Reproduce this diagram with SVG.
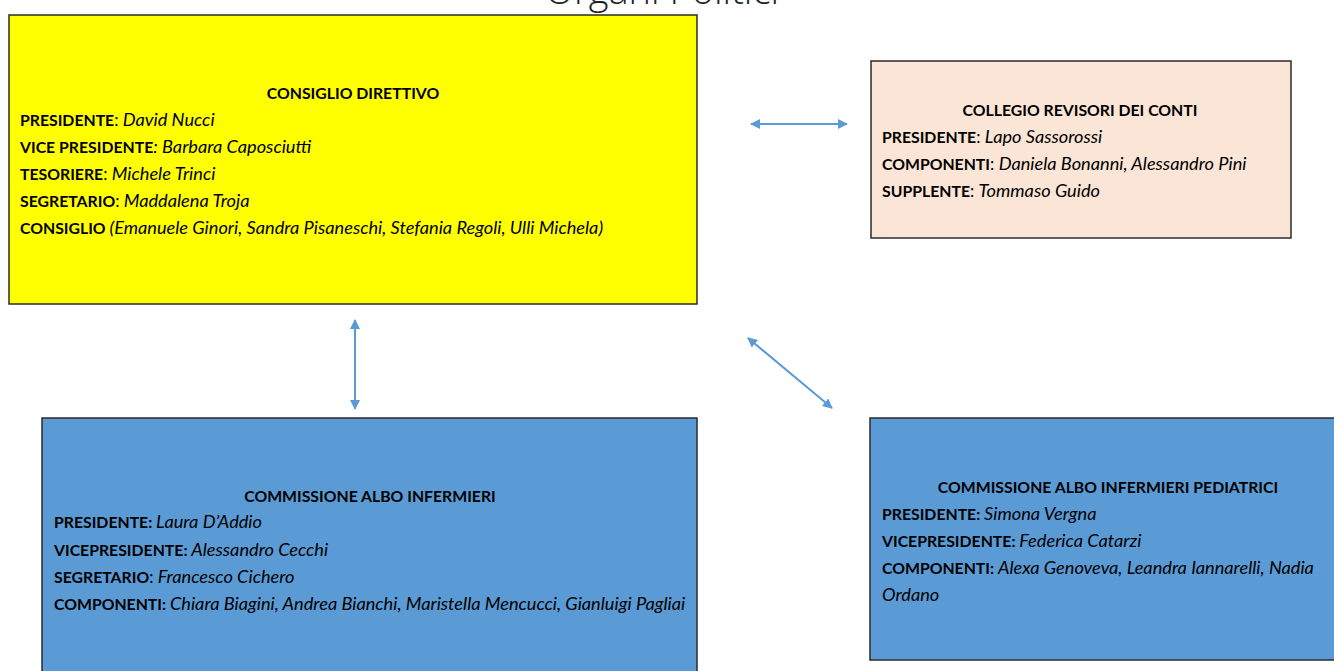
<svg xmlns="http://www.w3.org/2000/svg" width="1334" height="671" viewBox="0 0 1334 671">
<defs>
<style>
text{font-family:Lato,"Open Sans","Liberation Sans",sans-serif;font-size:15.8px;fill:#000}
.t{font-weight:bold;text-anchor:middle}
.b{font-weight:bold}
.n{font-weight:normal;font-size:17px}
.i{font-style:italic;font-weight:normal;font-size:18.2px}
.box{stroke:#2b2b2b;stroke-width:1.5}
.conn{stroke:#5B9BD5;stroke-width:2;fill:none;marker-start:url(#ah);marker-end:url(#ah)}
</style>
<marker id="ah" viewBox="0 0 10 10" refX="9" refY="5" markerWidth="5" markerHeight="5" orient="auto-start-reverse" markerUnits="strokeWidth">
<path d="M0,0 L10,5 L0,10 Z" fill="#5B9BD5"/>
</marker>
</defs>
<rect width="1334" height="671" fill="#fff"/>
<text x="662" y="4" style="font-family:'Open Sans','Liberation Sans',sans-serif;font-size:38px;font-weight:300;text-anchor:middle;fill:#222">Organi Politici</text>

<g id="consiglio-direttivo">
<rect class="box" x="9" y="15" width="688" height="289" fill="#FFFF00"/>
<text class="t" x="353" y="99">CONSIGLIO DIRETTIVO</text>
<text class="b" x="20" y="126">PRESIDENTE<tspan class="n">: </tspan><tspan class="i">David Nucci</tspan></text>
<text class="b" x="20" y="153">VICE PRESIDENTE<tspan class="i">: Barbara Caposciutti</tspan></text>
<text class="b" x="20" y="180">TESORIERE<tspan class="n">: </tspan><tspan class="i">Michele Trinci</tspan></text>
<text class="b" x="20" y="207">SEGRETARIO<tspan class="n">: </tspan><tspan class="i">Maddalena Troja</tspan></text>
<text class="b" x="20" y="234">CONSIGLIO <tspan class="i">(Emanuele Ginori, Sandra Pisaneschi, Stefania Regoli, Ulli Michela)</tspan></text>
</g>

<g id="collegio-revisori">
<rect class="box" x="871" y="61" width="420" height="177" fill="#FBE5D6"/>
<text class="t" x="1080" y="116">COLLEGIO REVISORI DEI CONTI</text>
<text class="b" x="882" y="143">PRESIDENTE<tspan class="n">: </tspan><tspan class="i">Lapo Sassorossi</tspan></text>
<text class="b" x="882" y="170">COMPONENTI<tspan class="n">: </tspan><tspan class="i">Daniela Bonanni, Alessandro Pini</tspan></text>
<text class="b" x="882" y="197">SUPPLENTE<tspan class="n">: </tspan><tspan class="i">Tommaso Guido</tspan></text>
</g>

<g id="commissione-infermieri">
<rect class="box" x="42" y="418" width="655" height="270" fill="#5B9BD5"/>
<text class="t" x="370" y="502">COMMISSIONE ALBO INFERMIERI</text>
<text class="b" x="54" y="528">PRESIDENTE: <tspan class="i">Laura D’Addio</tspan></text>
<text class="b" x="54" y="556">VICEPRESIDENTE: <tspan class="i">Alessandro Cecchi</tspan></text>
<text class="b" x="54" y="583">SEGRETARIO<tspan class="n">: </tspan><tspan class="i">Francesco Cichero</tspan></text>
<text class="b" x="54" y="610">COMPONENTI: <tspan class="i">Chiara Biagini, Andrea Bianchi, Maristella Mencucci, Gianluigi Pagliai</tspan></text>
</g>

<g id="commissione-pediatrici">
<rect class="box" x="870" y="418" width="480" height="242" fill="#5B9BD5"/>
<text class="t" x="1108" y="493">COMMISSIONE ALBO INFERMIERI PEDIATRICI</text>
<text class="b" x="882" y="520">PRESIDENTE: <tspan class="i">Simona Vergna</tspan></text>
<text class="b" x="882" y="547">VICEPRESIDENTE: <tspan class="i">Federica Catarzi</tspan></text>
<text class="b" x="882" y="574">COMPONENTI: <tspan class="i">Alexa Genoveva, Leandra Iannarelli, Nadia</tspan></text>
<text class="i" x="882" y="601">Ordano</text>
</g>

<g id="connectors">
<line class="conn" x1="751" y1="124" x2="847" y2="124"/>
<line class="conn" x1="355" y1="320" x2="355" y2="409"/>
<line class="conn" x1="748" y1="338" x2="832" y2="408"/>
</g>
</svg>
